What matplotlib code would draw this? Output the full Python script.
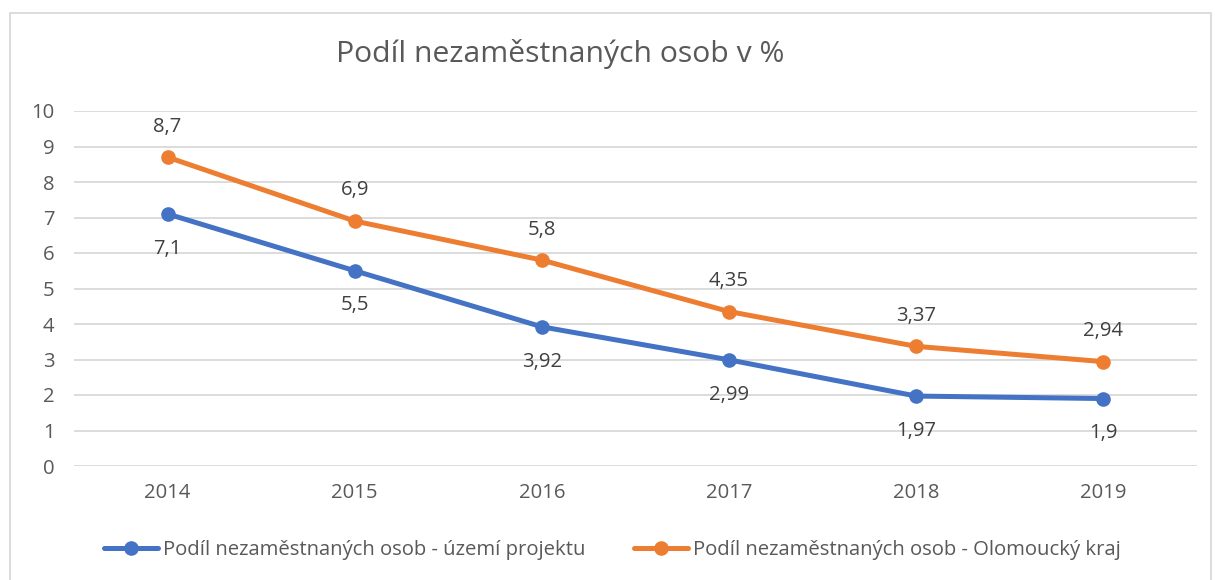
import matplotlib
matplotlib.use('Agg')
import matplotlib.pyplot as plt
from matplotlib.patches import Rectangle

plt.rcParams['font.family'] = ['Open Sans', 'DejaVu Sans']

years = ['2014', '2015', '2016', '2017', '2018', '2019']
uzemi = [7.1, 5.5, 3.92, 2.99, 1.97, 1.9]
kraj = [8.7, 6.9, 5.8, 4.35, 3.37, 2.94]
uzemi_lbl = ['7,1', '5,5', '3,92', '2,99', '1,97', '1,9']
kraj_lbl = ['8,7', '6,9', '5,8', '4,35', '3,37', '2,94']

blue = '#4472C4'
orange = '#ED7D31'
txt = '#595959'

fig = plt.figure(figsize=(12.15, 5.8), dpi=100)
W, H = 1215, 580
# plot area in pixels: x 74..1197, y 111 (10) .. 466 (0)
ax = fig.add_axes([74 / W, 1 - 466 / H, (1197 - 74) / W, (466 - 111) / H])

x = list(range(len(years)))
ax.plot(x, uzemi, color=blue, lw=3.6, marker='o', ms=9.5, solid_capstyle='round',
        label='Podíl nezaměstnaných osob - území projektu', zorder=3)
ax.plot(x, kraj, color=orange, lw=3.6, marker='o', ms=9.5, solid_capstyle='round',
        label='Podíl nezaměstnaných osob - Olomoucký kraj', zorder=3)

for i in x:
    ax.annotate(uzemi_lbl[i], (i, uzemi[i]), xytext=(0, -25), textcoords='offset points',
                ha='center', va='center', fontsize=14.6, color='#404040')
    ax.annotate(kraj_lbl[i], (i, kraj[i]), xytext=(0, 22), textcoords='offset points',
                ha='center', va='center', fontsize=14.6, color='#404040')

ax.set_xlim(-0.5, len(years) - 0.5)
ax.set_ylim(0, 10)
ax.set_yticks(range(0, 11))
ax.set_xticks(x)
ax.set_xticklabels(years)
ax.grid(axis='y', color='#D9D9D9', lw=1.3)
ax.set_axisbelow(True)
for s in ax.spines.values():
    s.set_visible(False)
ax.tick_params(length=0, labelsize=14.6, labelcolor=txt)
ax.tick_params(axis='x', pad=12)
ax.tick_params(axis='y', pad=14)

fig.text(560 / W, 1 - 54 / H, 'Podíl nezaměstnaných osob v %', ha='center', va='center',
         fontsize=21.7, color=txt)

fig.legend(loc='center', bbox_to_anchor=(612 / W, 1 - 550 / H), ncol=2, frameon=False,
           fontsize=14.6, labelcolor=txt, handlelength=2.7, handletextpad=0.2, columnspacing=2.4)

fig.patches.append(Rectangle((10 / W, -0.05), (1211 - 10) / W, 1 - 13 / H + 0.05,
                             transform=fig.transFigure, fill=False, edgecolor='#D9D9D9', lw=1.3))

fig.savefig('out.png', dpi=100)
